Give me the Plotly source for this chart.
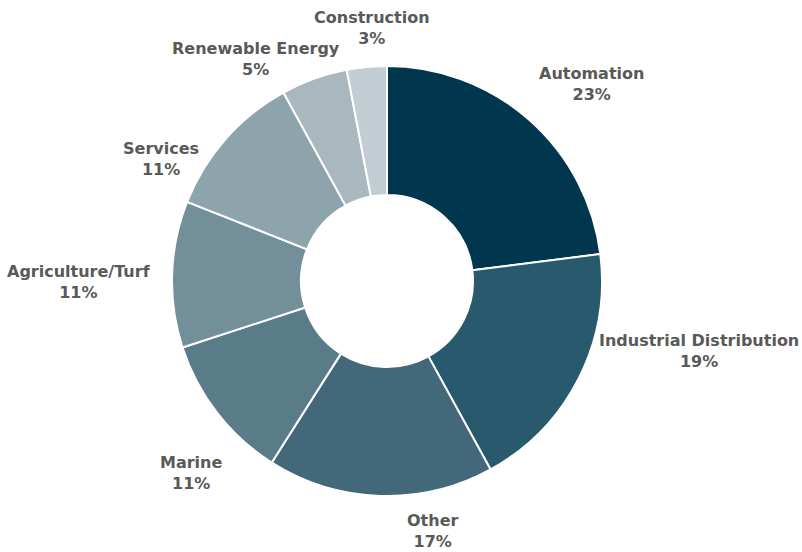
import plotly.graph_objects as go

# segment shares (%)
segments = ["Automation", "Industrial Distribution", "Other", "Marine",
            "Agriculture/Turf", "Services", "Renewable Energy", "Construction"]
shares = [23, 19, 17, 11, 11, 11, 5, 3]
colors = ["#00374f", "#28596c", "#42687a", "#5a7c89", "#738f9a",
          "#8ea4ad", "#a8b8be", "#c1cdd2"]

W, H = 802, 552
cx, cy, R = 387, 281, 215   # pie centre and radius in pixels

# where each label block sits (pixel centre), same order as segments
label_xy = [(591, 84), (699, 351), (432, 531), (191, 473),
            (79, 282), (161, 159), (256, 59), (372, 28)]

fig = go.Figure(go.Pie(
    labels=segments,
    values=shares,
    hole=0.4,
    sort=False,
    direction="clockwise",
    rotation=0,
    marker=dict(colors=colors, line=dict(color="white", width=2)),
    textinfo="none",
    domain=dict(x=[(cx - R) / W, (cx + R) / W],
                y=[1 - (cy + R) / H, 1 - (cy - R) / H]),
    showlegend=False,
    hoverinfo="label+percent",
))

for name, v, (px, py) in zip(segments, shares, label_xy):
    fig.add_annotation(
        x=px / W, y=1 - py / H, xref="paper", yref="paper",
        text=f"<b>{name}<br>{v}%</b>",
        showarrow=False, xanchor="center", yanchor="middle",
        font=dict(family="Verdana, DejaVu Sans", size=16, color="#595959"),
    )

fig.update_layout(
    width=W,
    height=H,
    margin=dict(l=0, r=0, t=0, b=0),
    paper_bgcolor="white",
    plot_bgcolor="white",
)

# drop the browser's default body margin so the figure sits at 0,0
fig.write_html("out.html", config={"displayModeBar": False},
               post_script="document.body.style.margin='0';")
